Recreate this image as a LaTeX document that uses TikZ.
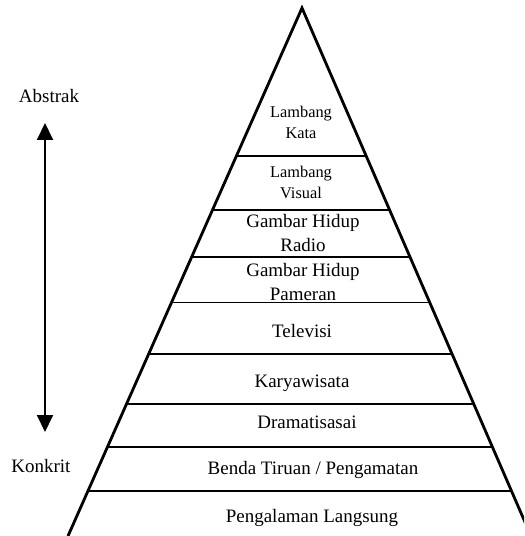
\documentclass[tikz,border=0pt]{standalone}
\usepackage{fontspec}
\setmainfont{Liberation Serif}
\usetikzlibrary{calc}
\usetikzlibrary{arrows.meta}
\tikzset{
    % sides of the pyramid and the thick layer lines
    pyramidline/.style={
        line width=1.6pt,
        black,
        line join=miter
    },
    layerline/.style={
        line width=1.6pt,
        black
    },
    thinline/.style={
        line width=0.5pt,
        black
    },
    levelarrow/.style={
        line width=1.1pt,
        black,
        {Triangle[length=3.4mm, width=3.2mm]}-{Triangle[length=3.4mm, width=3.2mm]}
    },
    layertext/.style={
        align=center,
        inner sep=0pt,
        font=\fontsize{10.8}{13.7}\selectfont
    },
    smalltext/.style={
        align=center,
        inner sep=0pt,
        font=\fontsize{9.3}{12}\selectfont
    }
}
\begin{document}
\begin{tikzpicture}[x=0.02cm, y=-0.02cm]
    \useasboundingbox (0,0) rectangle (524,536);

    \coordinate (apex) at (302,8);
    \coordinate (baseL) at (68,536);
    \coordinate (baseR) at (531,536);

    \begin{scope}
        \clip (0,0) rectangle (524,536);
        \draw[pyramidline] (baseL) -- (apex) -- (baseR);
    \end{scope}

    % layer lines, cut at both sides
    \foreach \yy in {156,210,257,354,404,447,491}{
        \pgfmathsetmacro{\lvl}{(\yy-8)/528}
        \draw[layerline] ($(apex)!\lvl!(baseL)$) -- ($(apex)!\lvl!(baseR)$);
    }
    \pgfmathsetmacro{\lvl}{(302-8)/528}
    \draw[thinline] ($(apex)!\lvl!(baseL)$) -- ($(apex)!\lvl!(baseR)$);

    \node[smalltext] (kata) at (301,122) {Lambang\\Kata};
    \node[smalltext] (visual) at (301,182) {Lambang\\Visual};
    \node[layertext] (radio) at (303,233) {Gambar Hidup\\Radio};
    \node[layertext] (pameran) at (303,282) {Gambar Hidup\\Pameran};
    \node[layertext] (televisi) at (302,331) {Televisi};
    \node[layertext] (karya) at (302,383) {Karyawisata};
    \node[layertext] (drama) at (307,422) {Dramatisasai};
    \node[layertext] (benda) at (313,470) {Benda Tiruan / Pengamatan};
    \node[layertext] (langsung) at (312,518) {Pengalaman Langsung};

    \node[layertext] (abstrak) at (49,96) {Abstrak};
    \node[layertext] (konkrit) at (41,466) {Konkrit};
    \coordinate (uptip) at (45,123);
    \coordinate (downtip) at (45,432);
    \draw[levelarrow] (downtip) -- (uptip);
\end{tikzpicture}
\end{document}
